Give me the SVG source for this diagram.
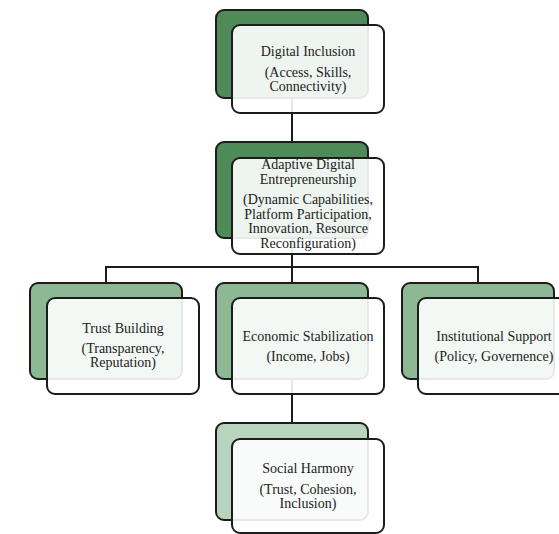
<svg xmlns="http://www.w3.org/2000/svg" width="559" height="534" viewBox="0 0 559 534">
  <style>
    .back { stroke: #1c1c1c; stroke-width: 2; }
    .dark { fill: #4f8a59; }
    .mid { fill: #8cb894; }
    .light { fill: #b9d4be; }
    .front { fill: #ffffff; fill-opacity: 0.9; stroke: #1c1c1c; stroke-width: 2; }
    .link { fill: none; stroke: #1c1c1c; stroke-width: 2; }
    .label { font-size: 14px; fill: #222222; text-anchor: middle; }
  </style>

  <!-- connectors -->
  <g id="connectors">
    <path class="link" d="M292 98 V142"/>
    <path class="link" d="M292 238 V267 M106 283 V267 H478 V283 M292 267 V283"/>
    <path class="link" d="M292 378 V423"/>
  </g>

  <g font-family="'Liberation Serif', 'Times New Roman', 'DejaVu Serif', serif">
    <g id="digital-inclusion">
      <rect class="back dark" x="216" y="10" width="152" height="88" rx="8"/>
      <rect class="front" x="232" y="25" width="152" height="88" rx="8"/>
      <text class="label" x="308" y="56">Digital Inclusion</text>
      <text class="label" x="308" y="77">(Access, Skills,</text>
      <text class="label" x="308" y="91">Connectivity)</text>
    </g>

    <g id="adaptive-digital-entrepreneurship">
      <rect class="back dark" x="216" y="142" width="152" height="96" rx="8"/>
      <rect class="front" x="232" y="158" width="152" height="96" rx="8"/>
      <text class="label" x="308" y="169">Adaptive Digital</text>
      <text class="label" x="308" y="184">Entrepreneurship</text>
      <text class="label" x="308" y="204">(Dynamic Capabilities,</text>
      <text class="label" x="308" y="219">Platform Participation,</text>
      <text class="label" x="308" y="233">Innovation, Resource</text>
      <text class="label" x="308" y="248">Reconfiguration)</text>
    </g>

    <g id="trust-building">
      <rect class="back mid" x="30" y="283" width="152" height="96" rx="8"/>
      <rect class="front" x="47" y="298" width="152" height="96" rx="8"/>
      <text class="label" x="123" y="333">Trust Building</text>
      <text class="label" x="123" y="353">(Transparency,</text>
      <text class="label" x="123" y="367">Reputation)</text>
    </g>

    <g id="economic-stabilization">
      <rect class="back mid" x="216" y="283" width="152" height="96" rx="8"/>
      <rect class="front" x="232" y="298" width="152" height="96" rx="8"/>
      <text class="label" x="308" y="341">Economic Stabilization</text>
      <text class="label" x="308" y="361">(Income, Jobs)</text>
    </g>

    <g id="institutional-support">
      <rect class="back mid" x="402" y="283" width="152" height="96" rx="8"/>
      <rect class="front" x="418" y="298" width="152" height="96" rx="8"/>
      <text class="label" x="494" y="341">Institutional Support</text>
      <text class="label" x="494" y="361">(Policy, Governence)</text>
    </g>

    <g id="social-harmony">
      <rect class="back light" x="216" y="423" width="152" height="97" rx="8"/>
      <rect class="front" x="232" y="439" width="152" height="94" rx="8"/>
      <text class="label" x="308" y="473">Social Harmony</text>
      <text class="label" x="308" y="494">(Trust, Cohesion,</text>
      <text class="label" x="308" y="508">Inclusion)</text>
    </g>
  </g>
</svg>
